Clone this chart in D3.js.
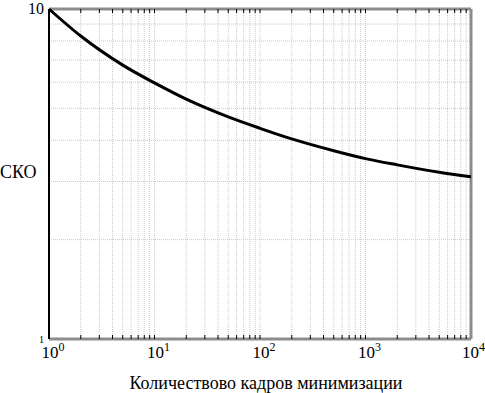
<!DOCTYPE html>
<html>
<head>
<meta charset="utf-8">
<script src="https://cdn.jsdelivr.net/npm/d3@7"></script>
<style>
  body { margin: 0; background: #fff; }
  svg { display: block; font-family: "Liberation Serif", "Times New Roman", serif; }
</style>
</head>
<body>
<svg width="485" height="393"></svg>
<script>
// values
var frames = [1, 2, 5, 10, 20, 50, 100, 200, 500, 1000, 2000, 5000, 10000];
var sko    = [10, 8.28, 6.76, 5.97, 5.33, 4.71, 4.35, 4.04, 3.72, 3.52, 3.37, 3.2, 3.1];
var xDecades = [1, 10, 100, 1000, 10000];
var xTickExp = ["0", "1", "2", "3", "4"];

var svg = d3.select("svg");
var left_margin = 49, top_margin = 9;
var width = 471 - left_margin;
var height = 339 - top_margin;

var x = d3.scaleLog().domain([1, 10000]).range([0, width]);
var y = d3.scaleLog().domain([1, 10]).range([height, 0]);

var g = svg.append("g").attr("transform", "translate(" + left_margin + "," + top_margin + ")");

// minor values 1..9 in every decade
var xMinor = [];
xDecades.slice(0, 4).forEach(function(d) {
  for (var k = 1; k <= 9; k++) xMinor.push(d * k);
});
xMinor.push(10000);
var yMinor = [2, 3, 4, 5, 6, 7, 8, 9];

// grid
g.selectAll(".vgrid").data(xMinor.slice(1, -1)).enter().append("line")
  .attr("x1", function(d) { return x(d); }).attr("x2", function(d) { return x(d); })
  .attr("y1", 0).attr("y2", height)
  .attr("stroke", "#c8c8c8").attr("stroke-dasharray", "1,1");
g.selectAll(".hgrid").data(yMinor).enter().append("line")
  .attr("y1", function(d) { return y(d); }).attr("y2", function(d) { return y(d); })
  .attr("x1", 0).attr("x2", width)
  .attr("stroke", "#c8c8c8").attr("stroke-dasharray", "1,1");

// frame: grey top/right/bottom, black left
g.append("line").attr("x1", 0).attr("x2", width).attr("y1", 0).attr("y2", 0)
  .attr("stroke", "#8c8c8c").attr("stroke-width", 3);
g.append("line").attr("x1", width).attr("x2", width).attr("y1", 0).attr("y2", height)
  .attr("stroke", "#8c8c8c").attr("stroke-width", 3);
g.append("line").attr("x1", 0).attr("x2", width).attr("y1", height).attr("y2", height)
  .attr("stroke", "#8c8c8c").attr("stroke-width", 3);
g.append("line").attr("x1", 0).attr("x2", 0).attr("y1", 0).attr("y2", height)
  .attr("stroke", "#000").attr("stroke-width", 2);

// inward ticks top and bottom
var tickVals = xMinor.slice(1, -1);
g.selectAll(".tb").data(tickVals).enter().append("line")
  .attr("x1", function(d) { return x(d); }).attr("x2", function(d) { return x(d); })
  .attr("y1", height - 4).attr("y2", height)
  .attr("stroke", "#000").attr("stroke-width", 1);
g.selectAll(".tt").data(tickVals).enter().append("line")
  .attr("x1", function(d) { return x(d); }).attr("x2", function(d) { return x(d); })
  .attr("y1", 0).attr("y2", 4)
  .attr("stroke", "#000").attr("stroke-width", 1);

// the curve
var line = d3.line()
  .x(function(d, i) { return x(frames[i]); })
  .y(function(d) { return y(d); })
  .curve(d3.curveMonotoneX);
g.append("path").datum(sko)
  .attr("d", line)
  .attr("fill", "none")
  .attr("stroke", "#000")
  .attr("stroke-width", 3);

// x tick labels 10^n
var xl = svg.selectAll(".xlab").data(xDecades).enter().append("text")
  .attr("x", function(d, i) { return i == 4 ? 485 : left_margin + x(d) + 4; })
  .attr("y", 358)
  .attr("text-anchor", function(d, i) { return i == 4 ? "end" : "middle"; })
  .attr("font-size", "17px");
xl.each(function(d, i) {
  var t = d3.select(this);
  t.append("tspan").text("10");
  t.append("tspan").attr("dy", "-7").attr("font-size", "12px").text(xTickExp[i]);
});

// y labels
svg.append("text").attr("x", 44).attr("y", 14).attr("text-anchor", "end")
  .attr("font-size", "16px").text("10");
svg.append("text").attr("x", 44).attr("y", 343).attr("text-anchor", "end")
  .attr("font-size", "10px").text("1");

svg.append("text").attr("x", 0).attr("y", 178)
  .attr("font-size", "18px").text("СКО");

svg.append("text").attr("x", 266).attr("y", 389).attr("text-anchor", "middle")
  .attr("font-size", "18px").text("Количествово кадров минимизации");
</script>
</body>
</html>
